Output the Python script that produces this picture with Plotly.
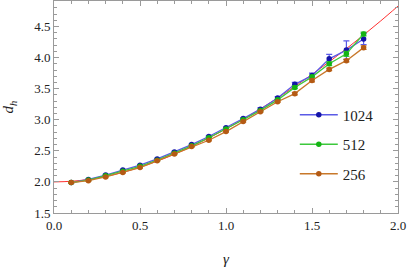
import plotly.graph_objects as go

# gamma values of the simulations
gamma = [0.1, 0.2, 0.3, 0.4, 0.5, 0.6, 0.7, 0.8, 0.9, 1.0,
         1.1, 1.2, 1.3, 1.4, 1.5, 1.6, 1.7, 1.8]

# measured d_h for the three lattice sizes
dh_1024 = [1.99, 2.04, 2.11, 2.19, 2.27, 2.37, 2.48, 2.60, 2.73, 2.87,
           3.02, 3.17, 3.35, 3.57, 3.71, 3.98, 4.12, 4.30]
err_1024 = [0.01, 0.01, 0.01, 0.01, 0.01, 0.01, 0.01, 0.01, 0.01, 0.01,
            0.01, 0.02, 0.02, 0.03, 0.04, 0.07, 0.15, 0.09]
dh_512 = [1.99, 2.03, 2.10, 2.17, 2.25, 2.35, 2.46, 2.58, 2.71, 2.85,
          3.00, 3.15, 3.32, 3.52, 3.69, 3.90, 4.06, 4.38]
err_512 = [0.01, 0.01, 0.01, 0.01, 0.01, 0.01, 0.01, 0.01, 0.01, 0.01,
           0.01, 0.01, 0.01, 0.02, 0.02, 0.03, 0.04, 0.03]
dh_256 = [1.99, 2.02, 2.08, 2.15, 2.23, 2.34, 2.45, 2.57, 2.67, 2.81,
          2.97, 3.13, 3.29, 3.42, 3.63, 3.81, 3.95, 4.16]
err_256 = [0.01, 0.01, 0.01, 0.01, 0.01, 0.01, 0.01, 0.01, 0.01, 0.01,
           0.01, 0.01, 0.01, 0.02, 0.02, 0.02, 0.02, 0.03]

# theory curve (read at steps of 0.1)
gamma_th = [0.0, 0.1, 0.2, 0.3, 0.4, 0.5, 0.6, 0.7, 0.8, 0.9, 1.0,
            1.1, 1.2, 1.3, 1.4, 1.5, 1.6, 1.7, 1.8, 1.9, 2.0]
dh_th = [2.000, 2.010, 2.040, 2.088, 2.154, 2.237, 2.334, 2.445, 2.569, 2.705, 2.851,
         3.007, 3.174, 3.350, 3.535, 3.729, 3.931, 4.143, 4.363, 4.591, 4.828]

series = [
    ("1024", dh_1024, err_1024, "#5a5ae6", "#1414a8"),
    ("512", dh_512, err_512, "#3cc83c", "#14b414"),
    ("256", dh_256, err_256, "#c8782a", "#b45a14"),
]

font_family = "Liberation Serif, Times New Roman, DejaVu Serif, serif"

fig = go.Figure()

fig.add_trace(go.Scatter(
    x=gamma_th, y=dh_th, mode="lines",
    line=dict(color="#ff3030", width=1, shape="spline"),
    showlegend=False, hoverinfo="skip"
))

for name, ys, errs, lcol, mcol in series:
    fig.add_trace(go.Scatter(
        x=gamma, y=ys, name=name, legendgroup=name,
        mode="lines+markers",
        line=dict(color=lcol, width=1.3),
        marker=dict(color=mcol, size=5.5),
        error_y=dict(type="data", array=errs, color=lcol, thickness=1.2, width=3)
    ))

axis_common = dict(
    showline=True, mirror="allticks", linecolor="#9a9a9a", linewidth=1,
    ticks="inside", ticklen=5, tickcolor="#9a9a9a", tickwidth=1,
    showgrid=False, zeroline=False, automargin=False,
    tickfont=dict(family=font_family, size=13, color="#222222"),
)

fig.update_xaxes(
    range=[0, 2.0], dtick=0.5, tickformat=".1f",
    minor=dict(dtick=0.1, ticks="inside", ticklen=3, tickcolor="#9a9a9a", showgrid=False),
    title=dict(text="<i>γ</i>", font=dict(family=font_family, size=15, color="#222222"), standoff=22),
    **axis_common
)
fig.update_yaxes(
    range=[1.5, 4.91], dtick=0.5, tickformat=".1f",
    minor=dict(dtick=0.1, ticks="inside", ticklen=3, tickcolor="#9a9a9a", showgrid=False),
    title=dict(text="<i>d<sub>h</sub></i>", font=dict(family=font_family, size=15, color="#222222"), standoff=16),
    **axis_common
)

fig.update_layout(
    width=407, height=267,
    font=dict(family=font_family),
    margin=dict(l=54, r=9, t=1, b=54),
    paper_bgcolor="white", plot_bgcolor="white",
    legend=dict(
        x=0.70, y=0.54, xanchor="left", yanchor="top",
        font=dict(family=font_family, size=15, color="#222222"),
        tracegroupgap=7, itemwidth=38, bgcolor="rgba(0,0,0,0)"
    ),
)

# page body has a default margin; remove it so the figure sits at the corner
fig.write_html("out.html", config={"displayModeBar": False},
               post_script="document.body.style.margin='0';")
